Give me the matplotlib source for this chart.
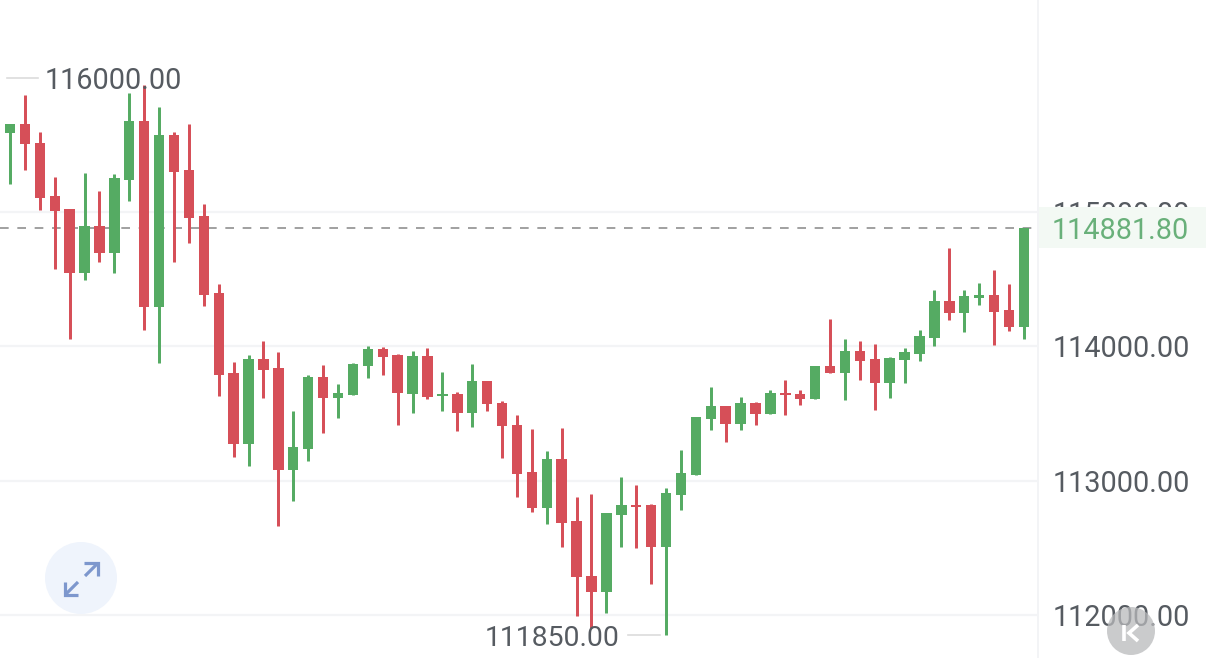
import matplotlib
matplotlib.use("Agg")
import matplotlib.pyplot as plt
from matplotlib.patches import Circle, Rectangle
from matplotlib.transforms import blended_transform_factory

opens = [115909,115589,115656,115515,115120,115023,114547,114896,114695,115239,115678,114293,115574,115313,114971,114398,113802,113273,113906,113839,113080,113236,113772,113616,113638,113854,113981,113936,113646,113929,113631,113646,113504,113742,113579,113415,113065,112797,113162,112700,112290,112171,112745,112819,112819,112506,112894,113042,113459,113556,113422,113579,113497,113653,113646,113608,113854,113802,113966,113906,113727,113899,113943,114063,114338,114249,114360,114383,114271,114144]
closes = [115589,115656,115507,115105,115008,114547,114896,114695,115254,115678,114293,115574,115299,114956,114383,113787,113273,113906,113824,113080,113251,113772,113616,113653,113869,113981,113921,113653,113929,113623,113646,113504,113742,113571,113407,113050,112797,113162,112685,112283,112171,112759,112819,112804,112506,112908,113057,113474,113556,113422,113579,113497,113653,113638,113608,113854,113802,113966,113891,113727,113914,113958,114077,114338,114249,114375,114383,114256,114144,114881.8]
highs = [115909,115656,115872,115596,115261,115023,115291,115157,115284,115887,115946,115783,115596,115656,115060,114465,113884,113936,114040,113958,113519,113787,113862,113720,113876,114003,113996,113943,113966,113988,113809,113660,113869,113742,113593,113489,113385,113221,113392,112879,112901,112759,113028,112968,112827,112946,113229,113474,113698,113556,113623,113586,113675,113750,113675,113854,114204,114055,114040,114018,113921,113988,114122,114420,114733,114420,114472,114569,114465,114881.8]
lows = [115589,115209,115313,115016,114576,114055,114494,114628,114547,115083,114122,113876,114628,114770,114301,113631,113176,113109,113616,112663,112849,113147,113355,113467,113638,113765,113787,113415,113504,113608,113519,113370,113400,113519,113169,112879,112767,112678,112506,111993,111903,112015,112506,112499,112231,111850,112782,113042,113378,113288,113378,113415,113497,113489,113564,113608,113802,113601,113750,113526,113616,113727,113891,114003,114197,114107,114308,114010,114115,114055]
first_index = -1

axis_prices = [115000, 114000, 113000, 112000]
axis_labels = ["115000.00", "114000.00", "113000.00", "112000.00"]
last_price = 114881.8
last_label = "114881.80"
max_price, max_label = 116000, "116000.00"
min_price, min_label = 111850, "111850.00"

W, H = 1206, 658
RED, GREEN = "#d64f58", "#55ab63"
GRID = "#f3f4f6"
TXT = "#565b61"
FONT = "Roboto"
FS = 20.8

fig = plt.figure(figsize=(W / 100, H / 100), dpi=100, facecolor="white")
ax = fig.add_axes([0, 0, 1, 1])
step = 14.91
ax.set_xlim(-10 / step, (W - 10) / step)
px_per_unit = 0.1343
ax.set_ylim(112000 - (H - 615) / px_per_unit, 112000 + 615 / px_per_unit)
ax.axis("off")

ov = fig.add_axes([0, 0, 1, 1], zorder=5)
ov.set_xlim(0, W)
ov.set_ylim(H, 0)
ov.axis("off")
ov.patch.set_alpha(0)
bt = blended_transform_factory(ov.transData, ax.transData)

# grid, last-price line
for p in axis_prices:
    ax.plot([0, 1037], [p, p], transform=bt, color=GRID, lw=1.6, zorder=1)
ax.plot([0, 1037], [last_price, last_price], transform=bt, color="#989898", lw=1.3,
        dashes=(4.8, 4.8), zorder=2)

# candles
xs = [first_index + i for i in range(len(opens))]
colors = [GREEN if c >= o else RED for o, c in zip(opens, closes)]
ax.vlines(xs, lows, highs, colors=colors, lw=2.15, zorder=3)
ax.bar(xs, [abs(c - o) for o, c in zip(opens, closes)], bottom=[min(o, c) for o, c in zip(opens, closes)],
       width=10.4 / step, color=colors, linewidth=0, zorder=4)

# right scale
ov.plot([1037.5, 1037.5], [0, H], color=GRID, lw=1.4, zorder=1)
for p, lab in zip(axis_prices, axis_labels):
    ov.text(1190, p, lab, transform=bt, ha="right", va="center_baseline", fontsize=FS,
            family=FONT, color=TXT, zorder=2)

ov.add_patch(Rectangle((1039, 207), W - 1039, 41, facecolor="#f3f9f4", edgecolor="none", zorder=3))
ov.text(1189, last_price, last_label, transform=bt, ha="right", va="center_baseline", fontsize=FS,
        family=FONT, color="#69b07a", zorder=4)

# extreme callouts
ov.plot([7, 38], [max_price, max_price], transform=bt, color="#dcdcdc", lw=1.2)
ov.text(45, max_price, max_label, transform=bt, ha="left", va="center_baseline", fontsize=FS,
        family=FONT, color=TXT, zorder=6)
ov.plot([628, 660], [min_price, min_price], transform=bt, color="#dcdcdc", lw=1.2)
ov.text(620, min_price, min_label, transform=bt, ha="right", va="center_baseline", fontsize=20.4,
        family=FONT, color=TXT, zorder=6)

# expand button
ov.add_patch(Circle((81, 578), 36, facecolor="#eff4fc", edgecolor="none", zorder=6))
ic = dict(color="#7d97cd", lw=2.3, solid_capstyle="butt", solid_joinstyle="miter", zorder=7)
ov.plot([84, 98, 98], [563, 563, 576], **ic)
ov.plot([85, 97], [576, 564], **ic)
ov.plot([65, 65, 78], [582, 595, 595], **ic)
ov.plot([66, 78], [594, 582], **ic)

# k button
ov.add_patch(Circle((1131, 631), 24, facecolor="#b9babc", alpha=0.75, edgecolor="none", zorder=6))
k = dict(color="white", lw=2.6, solid_capstyle="butt", solid_joinstyle="miter", zorder=7)
ov.plot([1124, 1124], [625, 641], **k)
ov.plot([1138, 1129, 1138], [625, 633, 641], **k)

fig.savefig("out.png", dpi=100, facecolor="white")
